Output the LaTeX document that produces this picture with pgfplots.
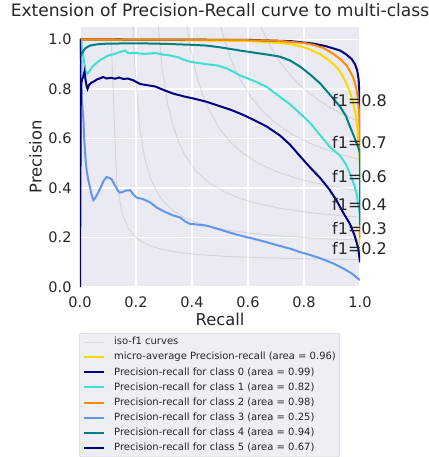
\documentclass[border=0pt]{standalone}
\usepackage{fontspec}
\setmainfont{DejaVu Sans}
\usepackage{pgfplots}
\pgfplotsset{compat=1.18}
\definecolor{bgc}{HTML}{EAEAF2}
\definecolor{txt}{HTML}{262626}
\definecolor{legbg}{HTML}{EEEEF5}
\definecolor{legframe}{HTML}{CCCCCC}
\definecolor{cnavy}{HTML}{000080}
\definecolor{cturq}{HTML}{40E0D0}
\definecolor{corange}{HTML}{FF8C00}
\definecolor{ccorn}{HTML}{6495ED}
\definecolor{cteal}{HTML}{008080}
\definecolor{cgold}{HTML}{FFD700}
\begin{document}
\begin{tikzpicture}
\begin{axis}[
  width=280pt, height=260pt, scale only axis,
  clip mode=individual,
  xmin=0, xmax=1, ymin=0, ymax=1.05,
  xtick={0,0.2,0.4,0.6,0.8,1.0}, ytick={0,0.2,0.4,0.6,0.8,1.0},
  xticklabels={0.0,0.2,0.4,0.6,0.8,1.0},
  yticklabels={0.0,0.2,0.4,0.6,0.8,1.0},
  axis background/.style={fill=bgc},
  axis line style={draw=none},
  major tick length=0pt,
  grid=major, major grid style={white, line width=1.2pt},
  tick label style={font=\fontsize{14.5}{16}\selectfont, text=txt, inner sep=0pt},
  xticklabel style={yshift=-9.7pt},
  yticklabel style={xshift=-8.3pt},
  title={Extension of Precision-Recall curve to multi-class},
  title style={font=\fontsize{17.1}{20}\selectfont, text=txt, at={(axis description cs:0.5,1)}, anchor=base, yshift=4.5pt, inner sep=0pt},
  xlabel={Recall}, ylabel={Precision},
  label style={font=\fontsize{16.3}{19}\selectfont, text=txt, inner sep=0pt},
  xlabel style={at={(axis description cs:0.5,0)}, anchor=base, yshift=-38pt},
  ylabel style={at={(axis description cs:-0.1368,0.5)}, anchor=base},
  legend style={at={(rel axis cs:-0.0036,-0.177)}, anchor=north west,
    draw=legframe, fill=legbg, rounded corners=2pt, inner sep=4pt,
    font=\fontsize{10}{12}\selectfont, text=txt, row sep=5.3pt, column sep=9pt,
    nodes={inner sep=0pt, text height=7.6pt, text depth=2.2pt, anchor=west}},
  legend cell align=left,
  legend image code/.code={\draw[#1] (0pt,0pt) -- (20pt,0pt);},
]
% iso-f1 curves
\addplot[gray, opacity=0.2, line width=1pt] coordinates {
(0.111020,1.0074) (0.131224,0.42027) (0.151429,0.29444) (0.171633,0.23960) (0.191837,0.20888) (0.212041,0.18925) (0.252449,0.16559) (0.292857,0.15185) (0.353469,0.13945) (0.414082,0.13184) (0.515102,0.12409) (0.616122,0.11937) (0.717143,0.11620) (0.818163,0.11392) (0.919184,0.11221) (1.0,0.11111)};
\addlegendentry{iso-f1 curves}
\addplot[gray, opacity=0.2, line width=1pt, forget plot] coordinates {
(0.171633,2.3607) (0.191837,0.96411) (0.212041,0.65192) (0.232245,0.51435) (0.252449,0.43691) (0.272653,0.38725) (0.292857,0.35269) (0.333265,0.30775) (0.373673,0.27981) (0.414082,0.26075) (0.474694,0.24135) (0.535306,0.22821) (0.616122,0.21613) (0.717143,0.20595) (0.818163,0.19890) (0.919184,0.19372) (1.0,0.19048)};
\addplot[gray, opacity=0.2, line width=1pt, forget plot] coordinates {
(0.232245,4.1726) (0.252449,1.71157) (0.272653,1.13923) (0.292857,0.88432) (0.313061,0.74009) (0.333265,0.64731) (0.353469,0.58263) (0.373673,0.53495) (0.414082,0.46938) (0.454490,0.42640) (0.515102,0.38401) (0.575714,0.35606) (0.636327,0.33625) (0.717143,0.31736) (0.818163,0.30092) (0.919184,0.28923) (1.0,0.28205)};
\addplot[gray, opacity=0.2, line width=1pt, forget plot] coordinates {
(0.292857,6.378) (0.313061,2.65138) (0.333265,1.75189) (0.353469,1.34711) (0.373673,1.11696) (0.393878,0.96846) (0.414082,0.86472) (0.434286,0.78815) (0.454490,0.72931) (0.494898,0.64482) (0.535306,0.58709) (0.575714,0.54512) (0.636327,0.50002) (0.696939,0.46803) (0.757551,0.44417) (0.838367,0.42041) (0.919184,0.40266) (1.0,0.38889)};
\addplot[gray, opacity=0.2, line width=1pt, forget plot] coordinates {
(0.353469,8.9226) (0.373673,3.77302) (0.393878,2.48558) (0.414082,1.90044) (0.434286,1.56605) (0.454490,1.34970) (0.474694,1.19824) (0.494898,1.08630) (0.515102,1.00019) (0.535306,0.93189) (0.555510,0.87640) (0.575714,0.83043) (0.616122,0.75866) (0.656531,0.70521) (0.696939,0.66386) (0.757551,0.61685) (0.818163,0.58176) (0.878776,0.55456) (0.939388,0.53287) (1.0,0.51515)};
\addplot[gray, opacity=0.2, line width=1pt, forget plot] coordinates {
(0.414082,11.762) (0.434286,5.06662) (0.454490,3.33632) (0.474694,2.54208) (0.494898,2.08601) (0.515102,1.79007) (0.535306,1.58251) (0.555510,1.42888) (0.575714,1.31057) (0.595918,1.21667) (0.616122,1.14032) (0.636327,1.07703) (0.656531,1.02371) (0.676735,0.97817) (0.696939,0.93883) (0.717143,0.90450) (0.737347,0.87429) (0.777755,0.82356) (0.818163,0.78263) (0.858571,0.74891) (0.898980,0.72065) (0.939388,0.69663) (0.979796,0.67596) (1.0,0.66667)};
% micro-average
\addplot[cgold, line width=2pt] coordinates {
(0,1.0) (0.1,0.998) (0.3,0.997) (0.5,0.995) (0.6,0.993) (0.65,0.99) (0.714,0.986) (0.75,0.981) (0.786,0.973) (0.82,0.96) (0.857,0.941) (0.89,0.915) (0.917,0.888) (0.935,0.858) (0.952,0.821) (0.965,0.785) (0.976,0.741) (0.984,0.7) (0.99,0.648) (0.995,0.58) (1.0,0.45) (1.0,0.17)};
\addlegendentry{micro-average Precision-recall (area = 0.96)}
% class 0
\addplot[cnavy, line width=2pt] coordinates {
(0,1.0) (0.6,0.998) (0.75,0.993) (0.833,0.983) (0.88,0.972) (0.929,0.955) (0.95,0.94) (0.97,0.921) (0.982,0.9) (0.99,0.875) (0.995,0.84) (0.998,0.781) (1.0,0.65) (1.0,0.2)};
\addlegendentry{Precision-recall for class 0 (area = 0.99)}
% class 1
\addplot[cturq, line width=2pt] coordinates {
(0,1.0) (0.005,0.99) (0.012,0.93) (0.02,0.87) (0.026,0.861) (0.036,0.875) (0.045,0.89) (0.054,0.9) (0.07,0.915) (0.085,0.925) (0.101,0.935) (0.12,0.94) (0.14,0.948) (0.161,0.955) (0.168,0.948) (0.175,0.944) (0.2,0.945) (0.23,0.941) (0.268,0.945) (0.3,0.938) (0.321,0.935) (0.35,0.928) (0.37,0.918) (0.393,0.91) (0.42,0.905) (0.45,0.9) (0.488,0.895) (0.52,0.885) (0.55,0.868) (0.571,0.855) (0.6,0.842) (0.63,0.828) (0.667,0.808) (0.69,0.788) (0.714,0.768) (0.75,0.738) (0.786,0.701) (0.82,0.665) (0.86,0.61) (0.893,0.565) (0.929,0.53) (0.95,0.495) (0.967,0.45) (0.98,0.41) (0.988,0.375) (0.994,0.33) (0.998,0.3) (1.0,0.28)};
\addlegendentry{Precision-recall for class 1 (area = 0.82)}
% class 2
\addplot[corange, line width=2pt] coordinates {
(0,1.0) (0.5,0.998) (0.7,0.995) (0.8,0.985) (0.833,0.978) (0.87,0.965) (0.905,0.941) (0.93,0.92) (0.952,0.895) (0.965,0.87) (0.976,0.845) (0.985,0.81) (0.99,0.78) (0.995,0.73) (0.998,0.675) (1.0,0.6) (1.0,0.2)};
\addlegendentry{Precision-recall for class 2 (area = 0.98)}
% class 3
\addplot[ccorn, line width=2pt] coordinates {
(0,1.0) (0.004,0.95) (0.007,0.75) (0.012,0.68) (0.015,0.6) (0.018,0.548) (0.021,0.5) (0.024,0.468) (0.03,0.43) (0.036,0.401) (0.042,0.37) (0.048,0.351) (0.055,0.36) (0.065,0.381) (0.075,0.405) (0.085,0.43) (0.095,0.444) (0.105,0.44) (0.113,0.435) (0.125,0.41) (0.135,0.39) (0.143,0.381) (0.155,0.385) (0.165,0.39) (0.179,0.391) (0.19,0.375) (0.202,0.361) (0.225,0.355) (0.25,0.342) (0.274,0.321) (0.3,0.305) (0.33,0.29) (0.357,0.281) (0.375,0.265) (0.393,0.255) (0.42,0.252) (0.452,0.248) (0.5,0.232) (0.54,0.218) (0.571,0.208) (0.62,0.195) (0.66,0.183) (0.7,0.17) (0.75,0.155) (0.786,0.141) (0.82,0.13) (0.86,0.115) (0.905,0.095) (0.94,0.075) (0.97,0.055) (1.0,0.028)};
\addlegendentry{Precision-recall for class 3 (area = 0.25)}
% class 4
\addplot[cteal, line width=2pt] coordinates {
(0,1.0) (0,0.93) (0.01,0.95) (0.02,0.965) (0.036,0.975) (0.06,0.98) (0.1,0.983) (0.214,0.984) (0.3,0.982) (0.4,0.978) (0.452,0.975) (0.5,0.968) (0.571,0.955) (0.63,0.945) (0.69,0.935) (0.714,0.93) (0.75,0.915) (0.786,0.89) (0.82,0.86) (0.857,0.823) (0.89,0.78) (0.929,0.728) (0.95,0.69) (0.964,0.648) (0.978,0.61) (0.988,0.58) (0.995,0.56) (1.0,0.54) (1.0,0.25)};
\addlegendentry{Precision-recall for class 4 (area = 0.94)}
% class 5
\addplot[cnavy, line width=2pt] coordinates {
(0,1.0) (0,0) (0.003,0.82) (0.008,0.84) (0.012,0.85) (0.016,0.87) (0.02,0.835) (0.024,0.81) (0.027,0.80) (0.032,0.815) (0.04,0.825) (0.05,0.83) (0.06,0.838) (0.07,0.842) (0.083,0.848) (0.095,0.842) (0.11,0.845) (0.125,0.841) (0.14,0.846) (0.155,0.84) (0.17,0.842) (0.19,0.835) (0.214,0.82) (0.24,0.815) (0.268,0.81) (0.3,0.795) (0.333,0.781) (0.37,0.77) (0.41,0.76) (0.452,0.748) (0.5,0.73) (0.54,0.715) (0.583,0.695) (0.62,0.675) (0.667,0.648) (0.714,0.612) (0.75,0.575) (0.786,0.528) (0.82,0.485) (0.857,0.441) (0.89,0.395) (0.917,0.348) (0.94,0.3) (0.964,0.255) (0.98,0.21) (0.988,0.18) (0.994,0.155) (1.0,0.10)};
\addlegendentry{Precision-recall for class 5 (area = 0.67)}
% f1 annotations
\node[anchor=base west, inner sep=0pt, font=\fontsize{16}{19}\selectfont, text=txt] at (axis cs:0.9,0.1322) {f1=0.2};
\node[anchor=base west, inner sep=0pt, font=\fontsize{16}{19}\selectfont, text=txt] at (axis cs:0.9,0.2137) {f1=0.3};
\node[anchor=base west, inner sep=0pt, font=\fontsize{16}{19}\selectfont, text=txt] at (axis cs:0.9,0.3092) {f1=0.4};
\node[anchor=base west, inner sep=0pt, font=\fontsize{16}{19}\selectfont, text=txt] at (axis cs:0.9,0.4227) {f1=0.6};
\node[anchor=base west, inner sep=0pt, font=\fontsize{16}{19}\selectfont, text=txt] at (axis cs:0.9,0.5596) {f1=0.7};
\node[anchor=base west, inner sep=0pt, font=\fontsize{16}{19}\selectfont, text=txt] at (axis cs:0.9,0.7282) {f1=0.8};
\end{axis}
\pgfresetboundingbox
\path[use as bounding box] ([shift={(-80pt,-170pt)}]current axis.south west) rectangle ([shift={(68pt,27pt)}]current axis.north east);
\end{tikzpicture}
\end{document}
